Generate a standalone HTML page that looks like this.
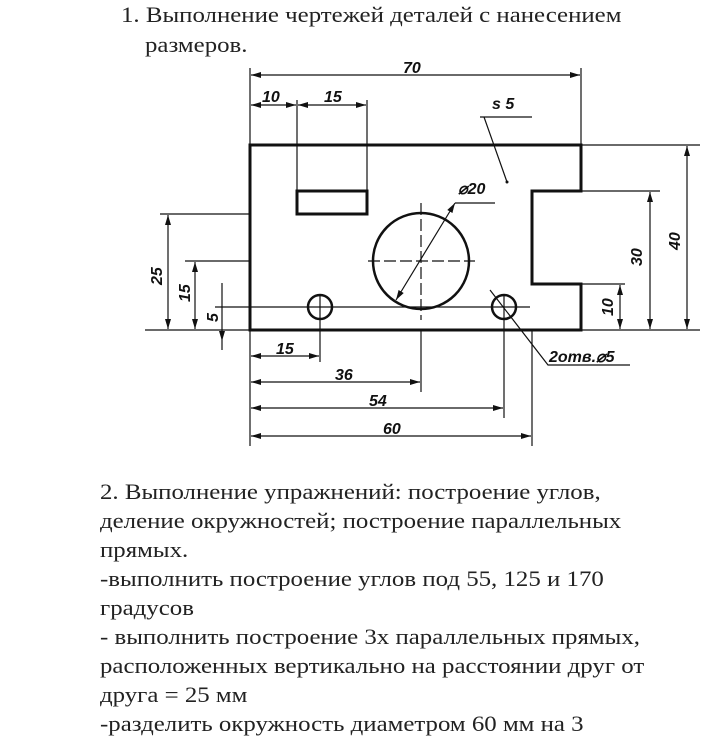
<!DOCTYPE html>
<html><head><meta charset="utf-8"><style>
body{margin:0;width:702px;height:750px;background:#fff;overflow:hidden;font-family:"Liberation Serif",serif;color:#222}
.t{position:absolute;font-size:22px;white-space:nowrap;line-height:22px;transform:scaleX(1.13);transform-origin:0 0}
svg{position:absolute;left:0;top:0}
svg text{font-family:"Liberation Sans",sans-serif;font-style:italic;font-weight:bold;font-size:16px;fill:#111}
</style></head><body>
<div class="t" style="left:121px;top:4px">1. Выполнение чертежей деталей с нанесением</div>
<div class="t" style="left:145px;top:34px">размеров.</div>
<svg width="702" height="480" viewBox="0 0 702 480">
<defs><marker id="a" viewBox="0 0 10 6" refX="10" refY="3" markerWidth="10" markerHeight="6" orient="auto-start-reverse" markerUnits="userSpaceOnUse"><path d="M0,0L10,3L0,6z" fill="#111"/></marker></defs>
<g stroke="#111" stroke-width="3" fill="none">
<path d="M250,145H581V191H532V284H581V330H250Z"/>
<rect x="297" y="191" width="70" height="23"/>
<circle cx="421" cy="261" r="48" stroke-width="2.5"/>
<circle cx="320" cy="307" r="12" stroke-width="2.5"/>
<circle cx="504" cy="307" r="12" stroke-width="2.5"/>
</g>
<g stroke="#111" stroke-width="1.2" fill="none">
<path d="M250,68V145M581,68V145M297,100V191M367,100V191"/>
<path d="M250,330V446M320,295V362M421,330V392M504,295V418M532,330V446"/>
<path d="M160,214H250M185,261H250M145,330H250M581,330H700M581,145H700M581,191H660M581,284H625M215,307H530"/>
<path d="M222,283V350"/>
<path d="M421,203V320M368,261H475" stroke-dasharray="12,4"/>
<path d="M480,117H532M484,117L507,182M455,203H495"/>
<path d="M490,290L548,365H630"/>
</g>
<circle cx="507" cy="182" r="1.5" fill="#111"/>
<g stroke="#111" stroke-width="1.2" marker-start="url(#a)" marker-end="url(#a)">
<path d="M251,75H580"/>
<path d="M251,105H296"/><path d="M298,105H366"/>
<path d="M168,215V329"/><path d="M195,262V329"/>
<path d="M650,192V329"/><path d="M687,146V329"/><path d="M620,285V329"/>
<path d="M251,356H319"/><path d="M251,382H420"/><path d="M251,408H503"/><path d="M251,436H531"/>
<path d="M455,203L396,300"/>
</g>
<path d="M222,296V306M222,331V341" stroke="#111" marker-end="url(#a)"/>
<text x="403" y="73">70</text>
<text x="262" y="102">10</text><text x="324" y="102">15</text>
<text x="492" y="109">s 5</text>
<text x="458" y="194">⌀20</text>
<text x="276" y="354">15</text><text x="335" y="380">36</text><text x="369" y="406">54</text><text x="383" y="434">60</text>
<text x="549" y="362">2отв.⌀5</text>
<text transform="translate(162,285) rotate(-90)">25</text>
<text transform="translate(190,302) rotate(-90)">15</text>
<text transform="translate(218,322) rotate(-90)">5</text>
<text transform="translate(642,266) rotate(-90)">30</text>
<text transform="translate(680,250) rotate(-90)">40</text>
<text transform="translate(613,316) rotate(-90)">10</text>
</svg>
<div class="t" style="left:100px;top:481px">2. Выполнение упражнений: построение углов,</div>
<div class="t" style="left:100px;top:510px">деление окружностей; построение параллельных</div>
<div class="t" style="left:100px;top:539px">прямых.</div>
<div class="t" style="left:100px;top:568px">-выполнить построение углов под 55, 125 и 170</div>
<div class="t" style="left:100px;top:597px">градусов</div>
<div class="t" style="left:100px;top:626px">- выполнить построение 3х параллельных прямых,</div>
<div class="t" style="left:100px;top:655px">расположенных вертикально на расстоянии друг от</div>
<div class="t" style="left:100px;top:684px">друга = 25 мм</div>
<div class="t" style="left:100px;top:713px">-разделить окружность диаметром 60 мм на 3</div>
</body></html>
